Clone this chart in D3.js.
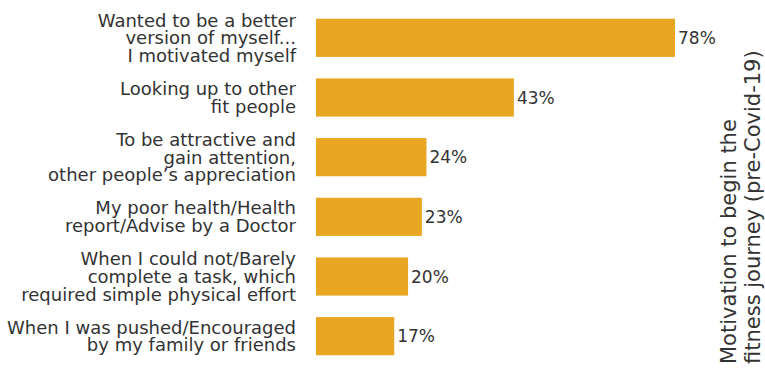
<!DOCTYPE html>
<html>
<head>
<meta charset="utf-8">
<script src="https://cdn.jsdelivr.net/npm/d3@7"></script>
<style>
  html, body { margin: 0; padding: 0; background: #fff; }
  svg { display: block; font-family: "DejaVu Sans", sans-serif; }
</style>
</head>
<body>
<svg id="chart" width="765" height="370"></svg>
<script>
// Motivations, each split into the lines shown beside its bar
const categories = [
  ["Wanted to be a better", "version of myself...", "I motivated myself"],
  ["Looking up to other", "fit people"],
  ["To be attractive and", "gain attention,", "other people\u2019s appreciation"],
  ["My poor health/Health", "report/Advise by a Doctor"],
  ["When I could not/Barely", "complete a task, which", "required simple physical effort"],
  ["When I was pushed/Encouraged", "by my family or friends"]
];
const values = [78, 43, 24, 23, 20, 17];
const titleLines = ["Motivation to begin the", "fitness journey (pre-Covid-19)"];

const barColor = "#E9A623";
const textColor = "#333333";
const labelSize = 18;
const valueSize = 17;
const lineH = 17.7;

const svg = d3.select("#chart");
const x0 = 316;

const x = d3.scaleLinear().domain([0, 78]).range([x0, 675]);
const y = d3.scaleBand()
  .domain(d3.range(values.length))
  .range([8, 366])
  .paddingInner(0.36)
  .paddingOuter(0.18);

const rows = svg.selectAll("g.row")
  .data(values)
  .join("g")
  .attr("class", "row");

rows.append("rect")
  .attr("x", x(0))
  .attr("y", (d, i) => y(i))
  .attr("width", d => x(d) - x(0))
  .attr("height", y.bandwidth())
  .attr("fill", barColor);

rows.append("text")
  .attr("x", d => x(d) + 3)
  .attr("y", (d, i) => y(i) + y.bandwidth() / 2)
  .attr("dy", "0.36em")
  .attr("fill", textColor)
  .style("font-size", valueSize + "px")
  .text(d => d + "%");

rows.append("text")
  .attr("text-anchor", "end")
  .attr("fill", textColor)
  .style("font-size", labelSize + "px")
  .each(function(d, i) {
    const lines = categories[i];
    const cy = y(i) + y.bandwidth() / 2;
    const top = cy - (lines.length - 1) * lineH / 2;
    d3.select(this).selectAll("tspan")
      .data(lines)
      .join("tspan")
      .attr("x", 296)
      .attr("y", (l, k) => top + k * lineH)
      .attr("dy", "0.36em")
      .text(l => l);
  });

// Rotated title on the right
svg.append("text")
  .attr("transform", "translate(736,364) rotate(-90)")
  .attr("fill", textColor)
  .style("font-size", "21px")
  .selectAll("tspan")
  .data(titleLines)
  .join("tspan")
  .attr("x", 0)
  .attr("y", (l, k) => k * 24)
  .text(l => l);
</script>
</body>
</html>
